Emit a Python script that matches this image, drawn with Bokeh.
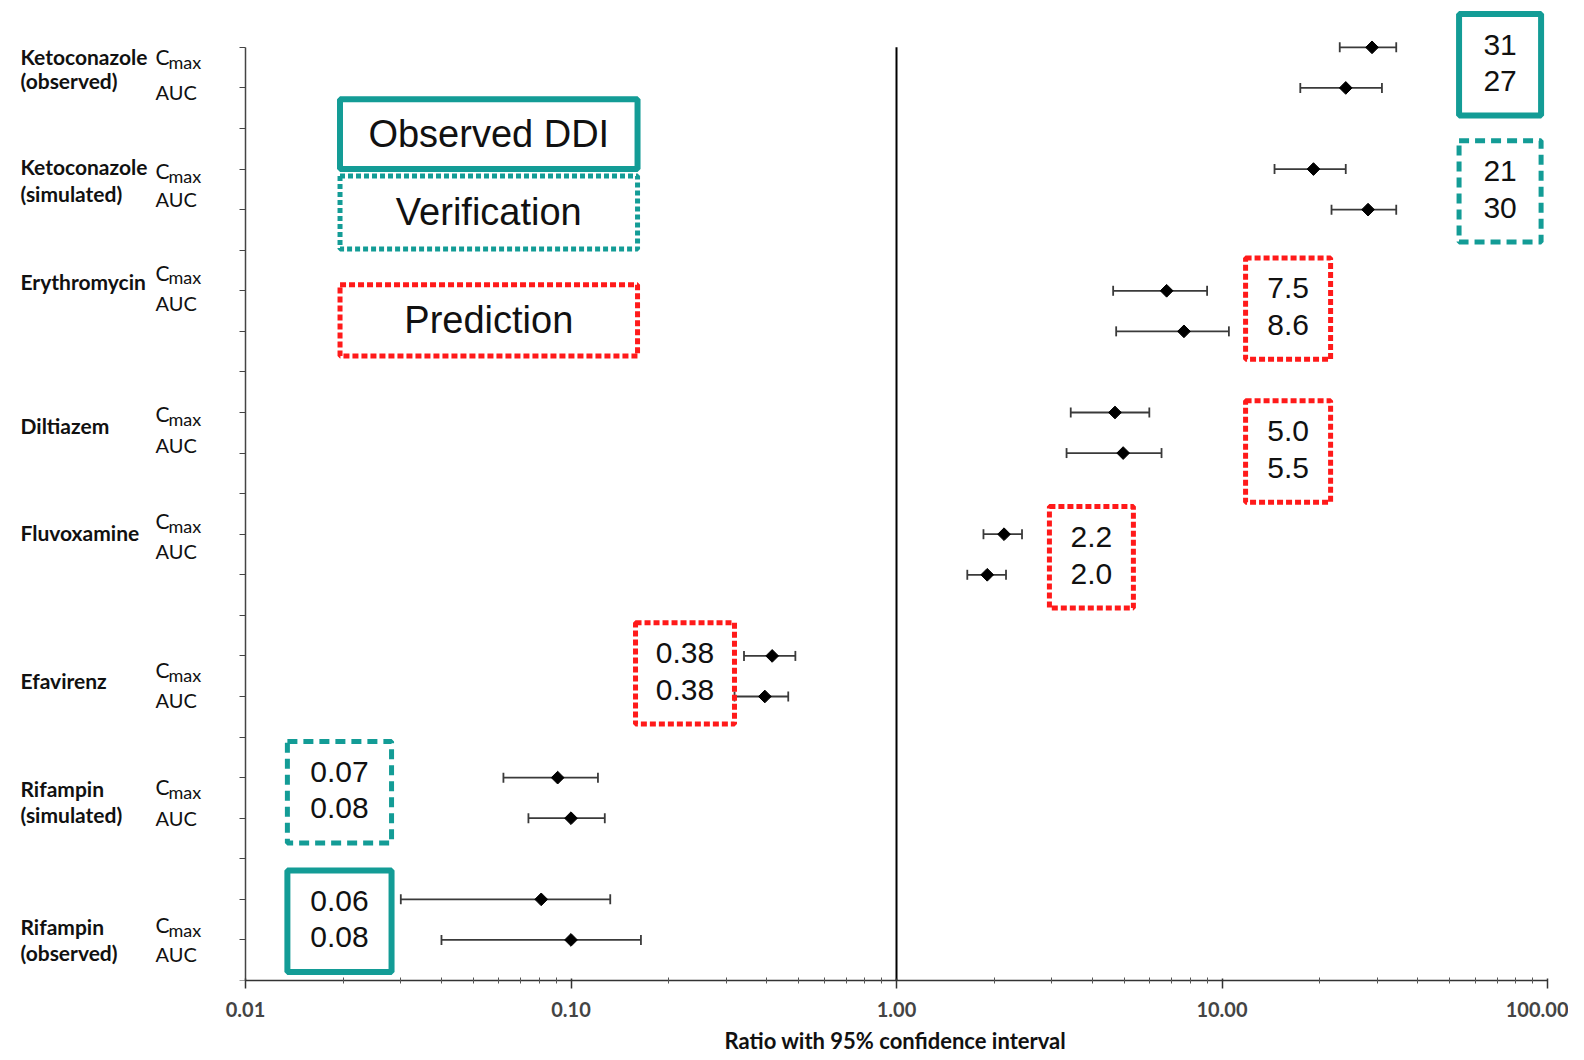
import math
from bokeh.plotting import figure
from bokeh.models import (Range1d, FixedTicker, Whisker, ColumnDataSource, Title,
                          TeeHead, CustomJSTickFormatter)
from bokeh.core.properties import value
from bokeh.embed import file_html
from bokeh.resources import INLINE

# ---- data ----
drug_lines = [["Ketoconazole", "(observed)"], ["Ketoconazole", "(simulated)"],
              ["Erythromycin"], ["Diltiazem"], ["Fluvoxamine"], ["Efavirenz"],
              ["Rifampin", "(simulated)"], ["Rifampin", "(observed)"]]
cmax_ratio = [28.9, 19.1, 6.76, 4.69, 2.14, 0.415, 0.091, 0.081]
cmax_lo = [23.0, 14.5, 4.63, 3.43, 1.85, 0.340, 0.062, 0.030]
cmax_hi = [34.3, 24.0, 9.0, 5.98, 2.43, 0.489, 0.121, 0.132]
auc_ratio = [24.0, 28.1, 7.64, 4.97, 1.90, 0.394, 0.100, 0.100]
auc_lo = [17.4, 21.7, 4.73, 3.33, 1.65, 0.318, 0.074, 0.040]
auc_hi = [31.0, 34.3, 10.5, 6.52, 2.17, 0.465, 0.127, 0.164]
cmax_text = ["31", "21", "7.5", "5.0", "2.2", "0.38", "0.07", "0.06"]
auc_text = ["27", "30", "8.6", "5.5", "2.0", "0.38", "0.08", "0.08"]
kind = ["obs", "ver", "pred", "pred", "pred", "pred", "ver", "obs"]
legend_names = ["Observed DDI", "Verification", "Prediction"]
legend_kinds = ["obs", "ver", "pred"]
x_ticks = [0.01, 0.1, 1, 10, 100]

# ---- layout (rows are 1 unit apart, x axis at row 0) ----
n = len(drug_lines)
cmax_row = [23 - 3 * i for i in range(n)]
auc_row = [22 - 3 * i for i in range(n)]
name_row = [[22.78, 22.18], [20.07, 19.40], [17.24], [13.69], [11.05], [7.40], [4.74, 4.10], [1.34, 0.70]]
cmax_lab_row = [22.78, 19.97, 17.46, 13.98, 11.33, 7.67, 4.77, 1.37]
auc_lab_row = [21.91, 19.25, 16.69, 13.21, 10.58, 6.91, 4.00, 0.65]
box_row = [23.07, 19.95, 17.06, 13.54, 10.93, 8.07, 5.14, 1.96]
box_x = [71.5, 71.5, 15.96, 15.96, 3.97, 0.224, 0.01944, 0.01944]
box_half = [0.126, 0.126, 0.1306, 0.1306, 0.129, 0.152, 0.160, 0.160]
legend_row = [20.86, 18.93, 16.27]
legend_half_h = [0.86, 0.90, 0.88]

TEAL = "#139C96"
RED = "#FF1A1A"
style = {"obs": dict(line_color=TEAL, line_width=6, line_dash="solid"),
         "ver": dict(line_color=TEAL, line_width=5, line_dash="10 6"),
         "pred": dict(line_color=RED, line_width=5, line_dash="6 3")}
legend_style = {"obs": dict(line_color=TEAL, line_width=6, line_dash="solid"),
                "ver": dict(line_color=TEAL, line_width=5, line_dash="5 3"),
                "pred": dict(line_color=RED, line_width=5, line_dash="6 3")}

DEC = 325.5          # pixels per decade
X0 = 245             # canvas px of x = 0.01


def px_to_x(px):
    # canvas pixel -> data value on the log axis
    return 10 ** ((px - X0) / DEC - 2)


p = figure(width=1568, height=1058, x_axis_type="log",
           x_range=Range1d(px_to_x(0), 100), y_range=Range1d(0, 24.13),
           output_backend="svg", toolbar_location=None,
           min_border_left=0, min_border_right=21, min_border_top=1, min_border_bottom=76)
p.outline_line_color = None
p.xgrid.visible = False
p.ygrid.visible = False

# x axis
xa = p.xaxis[0]
minors = [k * t for t in x_ticks[:-1] for k in range(2, 10)]
xa.ticker = FixedTicker(ticks=x_ticks, minor_ticks=minors)
xa.bounds = (0.01, 100)
xa.formatter = CustomJSTickFormatter(code="return tick.toFixed(2)")
xa.major_label_text_font = "Lato"
xa.major_label_text_font_style = "bold"
xa.major_label_text_font_size = "20px"
xa.major_label_standoff = 13
xa.axis_line_color = "#333333"
xa.axis_line_width = 1.5
xa.major_tick_line_color = "#333333"
xa.major_tick_line_width = 1.5
xa.major_tick_out = 8
xa.major_tick_in = 2
xa.minor_tick_line_color = "#555555"
xa.minor_tick_out = 3
xa.minor_tick_in = 3

# axis title, centred under x = 1 rather than under the whole frame
p.add_layout(Title(text="Ratio with 95% confidence interval", align="left", offset=724,
                   text_font="Lato", text_font_style="bold", text_font_size="22px",
                   text_color="#111111"), "below")

# y axis: line and row ticks at x = 0.01
ya = p.yaxis[0]
ya.fixed_location = 0.01
ya.ticker = FixedTicker(ticks=list(range(0, 24)))
ya.bounds = (0, 23)
ya.formatter = CustomJSTickFormatter(code="return ''")
ya.major_label_standoff = 0
ya.axis_line_color = "#444444"
ya.axis_line_width = 1.5
ya.major_tick_line_color = "#444444"
ya.major_tick_out = 6
ya.major_tick_in = 0
ya.minor_tick_line_color = None

# line of unity
p.segment(x0=[1], y0=[0], x1=[1], y1=[23], line_color="black", line_width=2)

# error bars and points
rows, ratio, lo, hi = [], [], [], []
for i in range(n):
    rows += [cmax_row[i], auc_row[i]]
    ratio += [cmax_ratio[i], auc_ratio[i]]
    lo += [cmax_lo[i], auc_lo[i]]
    hi += [cmax_hi[i], auc_hi[i]]
src = ColumnDataSource(dict(row=rows, ratio=ratio, lo=lo, hi=hi))
p.add_layout(Whisker(source=src, base="row", lower="lo", upper="hi", dimension="width",
                     line_color="#3a3a3a", line_width=1.8,
                     upper_head=TeeHead(size=10, line_color="#3a3a3a", line_width=1.8),
                     lower_head=TeeHead(size=10, line_color="#3a3a3a", line_width=1.8)))
p.scatter("ratio", "row", source=src, marker="square", angle=math.pi / 4, size=9,
          fill_color="black", line_color="black")

# value boxes
for i in range(n):
    r1 = box_row[i]
    r2 = r1 - 0.9
    left = box_x[i] * 10 ** (-box_half[i])
    right = box_x[i] * 10 ** (box_half[i])
    p.quad(left=[left], right=[right], top=[r1 + 0.75], bottom=[r2 - 0.85],
           fill_alpha=0, **style[kind[i]])
    p.text(x=[box_x[i], box_x[i]], y=[r1, r2], text=[cmax_text[i], auc_text[i]],
           text_font=value("Liberation Sans"), text_font_size="30px",
           text_align="center", text_baseline="middle", text_color="#111111")

# legend boxes
lx = 0.0559
lh = 0.457
for j, name in enumerate(legend_names):
    p.quad(left=[lx * 10 ** (-lh)], right=[lx * 10 ** lh],
           top=[legend_row[j] + legend_half_h[j]], bottom=[legend_row[j] - legend_half_h[j]],
           fill_alpha=0, **legend_style[legend_kinds[j]])
    p.text(x=[lx], y=[legend_row[j]], text=[name],
           text_font=value("Liberation Sans"), text_font_size="38px",
           text_align="center", text_baseline="middle", text_color="#111111")

# row labels on the left
name_x = px_to_x(20)
lab_x = px_to_x(155)
sub_x = px_to_x(168)
for i in range(n):
    p.text(x=[name_x] * len(drug_lines[i]), y=name_row[i], text=drug_lines[i],
           text_font=value("Lato"), text_font_style="bold", text_font_size="21px",
           text_baseline="middle", text_color="#111111")
    p.text(x=[lab_x], y=[cmax_lab_row[i]], text=["C"], text_font=value("Lato"),
           text_font_size="21px", text_baseline="middle", text_color="#111111")
    p.text(x=[sub_x], y=[cmax_lab_row[i] - 0.13], text=["max"], text_font=value("Lato"),
           text_font_size="18px", text_baseline="middle", text_color="#111111")
    p.text(x=[lab_x], y=[auc_lab_row[i]], text=["AUC"], text_font=value("Lato"),
           text_font_size="20px", text_baseline="middle", text_color="#111111")

open("out.html", "w").write(file_html(p, INLINE))
